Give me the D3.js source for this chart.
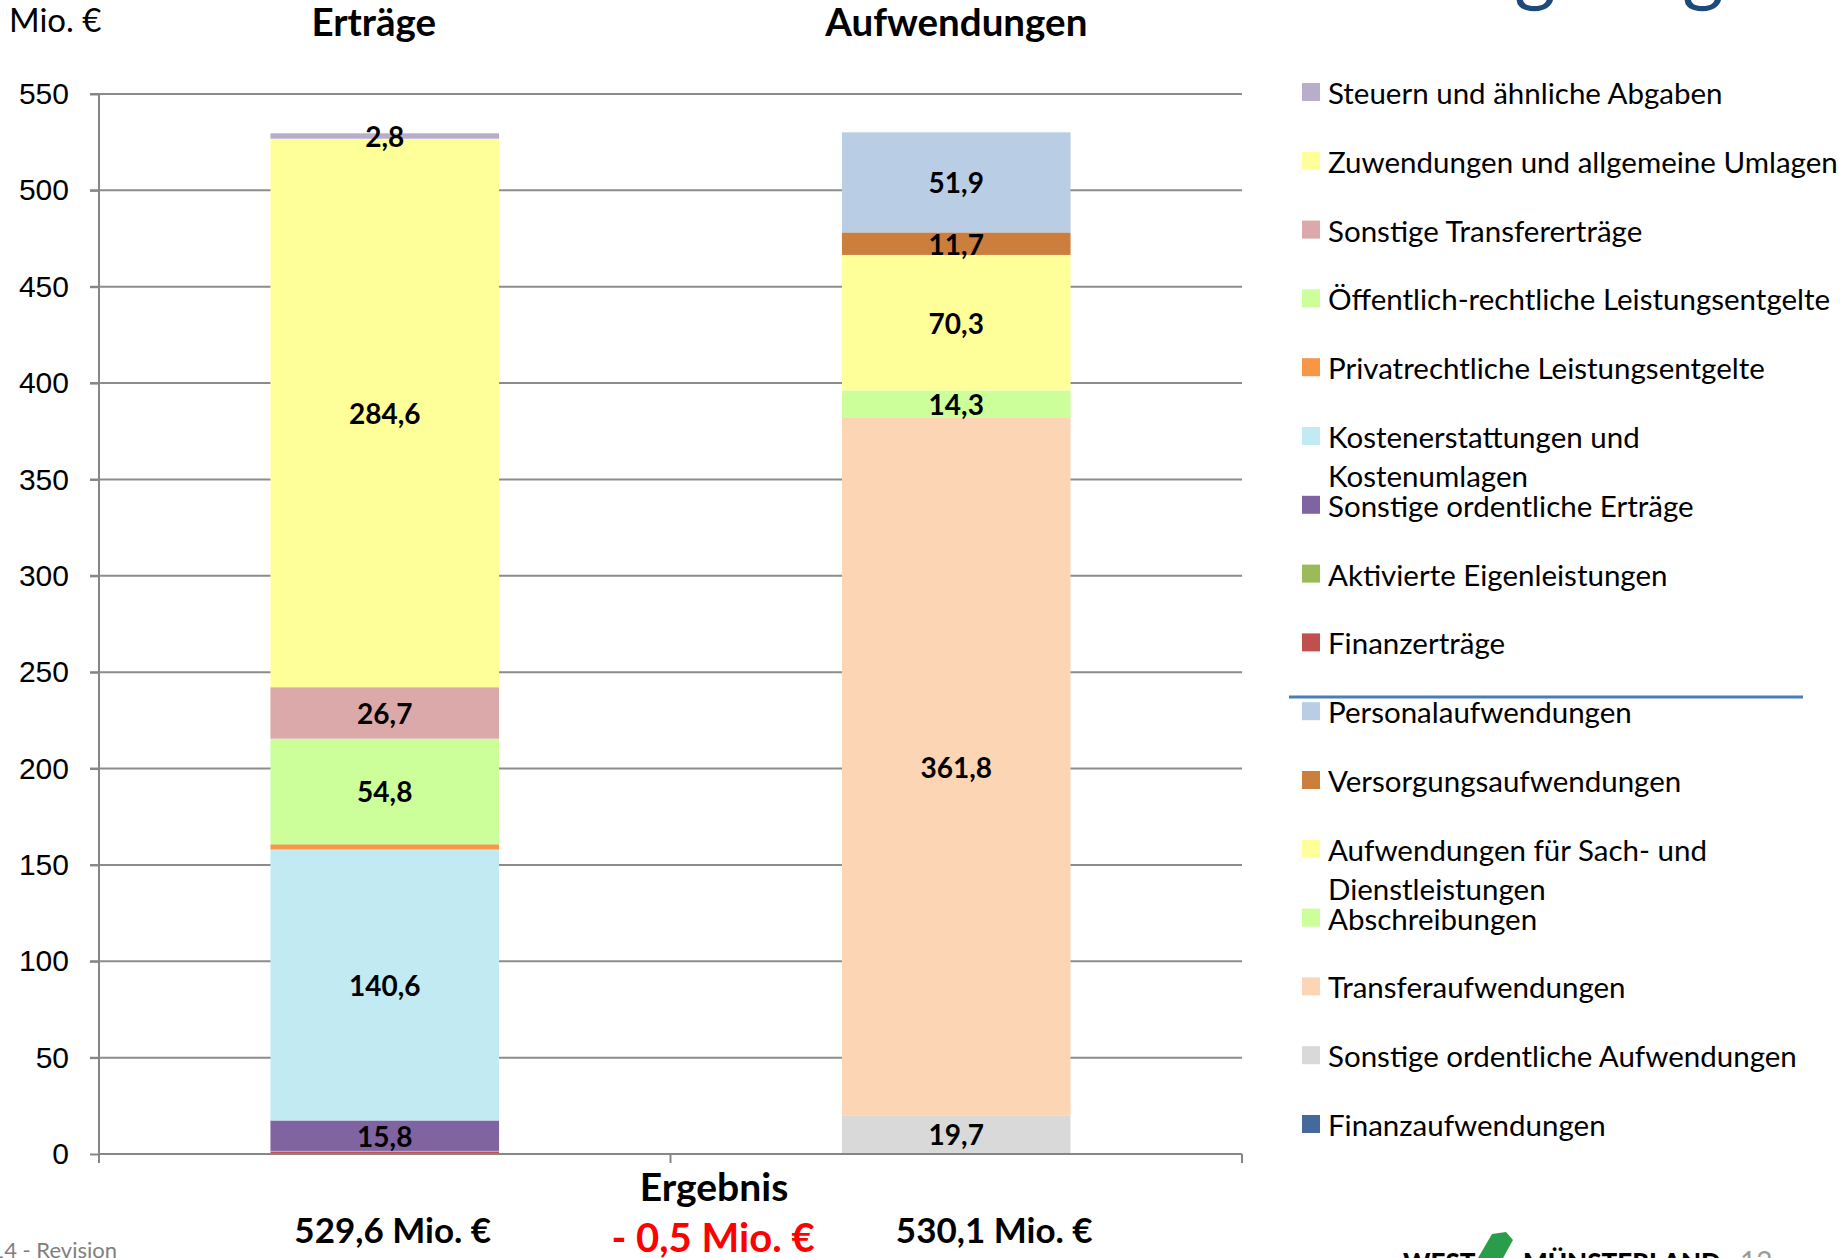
<!DOCTYPE html>
<html lang="de">
<head>
<meta charset="UTF-8" />
<title>Erträge und Aufwendungen</title>
<script src="https://d3js.org/d3.v7.min.js"></script>
<style>
  body { margin: 0; background: #fff; overflow: hidden; }
  svg { display: block; font-family: Lato, "Open Sans", sans-serif; }
  .grid line { stroke: #8c8c8c; stroke-width: 2px; }
  .axis path, .axis line { stroke: #868686; stroke-width: 2px; }
  .axis text { font-size: 30px; fill: #000; }
  .seg-label { font-size: 28px; font-weight: bold; fill: #000; }
  .legend text { font-size: 29.5px; fill: #000; }
</style>
</head>
<body>
<svg width="1847" height="1258"></svg>
<script>
// categories and y ticks
const categories = ["Erträge", "Aufwendungen"];
const yTicks = [0, 50, 100, 150, 200, 250, 300, 350, 400, 450, 500, 550];

// series in stacking order (bottom -> top); legend shows them reversed
const seriesNames = [
  "Finanzaufwendungen",
  "Sonstige ordentliche Aufwendungen",
  "Transferaufwendungen",
  "Abschreibungen",
  "Aufwendungen für Sach- und\nDienstleistungen",
  "Versorgungsaufwendungen",
  "Personalaufwendungen",
  "Finanzerträge",
  "Aktivierte Eigenleistungen",
  "Sonstige ordentliche Erträge",
  "Kostenerstattungen und\nKostenumlagen",
  "Privatrechtliche Leistungsentgelte",
  "Öffentlich-rechtliche Leistungsentgelte",
  "Sonstige Transfererträge",
  "Zuwendungen und allgemeine Umlagen",
  "Steuern und ähnliche Abgaben"
];
const seriesColors = [
  "#44699c", "#d9d9d9", "#fcd5b5", "#ccff99", "#ffff99", "#cc7f3c", "#b9cde5",
  "#c0504d", "#9bbb59", "#8064a2", "#c2eaf2", "#f79646", "#ccff99", "#dba9a9",
  "#ffff99", "#b8aecb"
];
const ertraegeValues =     [0, 0, 0, 0, 0, 0, 0, 1.1, 0.5, 15.8, 140.6, 2.7, 54.8, 26.7, 284.6, 2.8];
const aufwendungenValues = [0.4, 19.7, 361.8, 14.3, 70.3, 11.7, 51.9, 0, 0, 0, 0, 0, 0, 0, 0, 0];

// totals under the bars
const totalLabels = ["529,6 Mio. €", "530,1 Mio. €"];
const resultTitle = "Ergebnis";
const resultValue = "- 0,5 Mio. €";

const svg = d3.select("svg");

const x = d3.scaleBand().domain(categories).range([99, 1242])
  .paddingInner(0.6).paddingOuter(0.3);
const y = d3.scaleLinear().domain([0, 550]).range([1154, 94]);

// gridlines
svg.append("g").attr("class", "grid")
  .selectAll("line").data(yTicks.filter(d => d > 0)).join("line")
  .attr("x1", 90).attr("x2", 1242)
  .attr("y1", d => y(d)).attr("y2", d => y(d));

// stacked bars
const rows = categories.map((c, i) => {
  const r = { cat: c };
  const vals = i === 0 ? ertraegeValues : aufwendungenValues;
  seriesNames.forEach((s, j) => r[s] = vals[j]);
  return r;
});
const stacked = d3.stack().keys(seriesNames)(rows);
const fmt = v => d3.format(".1f")(v).replace(".", ",");

const layers = svg.append("g").selectAll("g").data(stacked).join("g")
  .attr("fill", (d, i) => seriesColors[i]);
layers.selectAll("rect").data(d => d.filter(p => p[1] - p[0] > 0)).join("rect")
  .attr("x", d => x(d.data.cat))
  .attr("width", x.bandwidth())
  .attr("y", d => y(d[1]))
  .attr("height", d => y(d[0]) - y(d[1]));

// segment labels
const labelData = [];
stacked.forEach(layer => layer.forEach(p => {
  const v = p[1] - p[0];
  if (v >= 2.75) labelData.push({ cat: p.data.cat, mid: (p[0] + p[1]) / 2, v });
}));
svg.append("g").selectAll("text").data(labelData).join("text")
  .attr("class", "seg-label")
  .attr("x", d => x(d.cat) + x.bandwidth() / 2)
  .attr("y", d => y(d.mid))
  .attr("text-anchor", "middle")
  .attr("dominant-baseline", "central")
  .text(d => fmt(d.v));

// y axis
const yAxis = svg.append("g").attr("class", "axis")
  .attr("transform", "translate(99,0)")
  .call(d3.axisLeft(y).tickValues(yTicks).tickSize(9).tickPadding(21).tickSizeOuter(0));
yAxis.select(".domain").attr("d", `M0,${y(550)}V${y(0)}`);

// x axis (no labels, ticks between categories)
const xAxis = svg.append("g").attr("class", "axis");
xAxis.append("line").attr("x1", 99).attr("x2", 1242).attr("y1", y(0)).attr("y2", y(0));
xAxis.selectAll(".xt").data([99, (99 + 1242) / 2, 1242]).join("line")
  .attr("x1", d => d).attr("x2", d => d)
  .attr("y1", y(0)).attr("y2", y(0) + 9);

// unit + category titles
svg.append("text").attr("x", 9).attr("y", 32)
  .style("font-size", "33px").text("Mio. €");
svg.selectAll(".cat-title").data(categories).join("text")
  .attr("x", (d, i) => x(d) + x.bandwidth() / 2 - (i === 0 ? 11 : 0))
  .attr("y", 36)
  .attr("text-anchor", "middle")
  .style("font-size", "38.5px").style("font-weight", "bold")
  .text(d => d);

// totals and result
svg.selectAll(".total").data(categories).join("text")
  .attr("x", (d, i) => x(d) + x.bandwidth() / 2 + (i === 0 ? 8 : 38))
  .attr("y", 1229)
  .attr("text-anchor", "middle").attr("dominant-baseline", "central")
  .style("font-size", "35px").style("font-weight", "bold")
  .text((d, i) => totalLabels[i]);
svg.append("text").attr("x", 714).attr("y", 1186)
  .attr("text-anchor", "middle").attr("dominant-baseline", "central")
  .style("font-size", "39px").style("font-weight", "bold").text(resultTitle);
svg.append("text").attr("x", 713).attr("y", 1237)
  .attr("text-anchor", "middle").attr("dominant-baseline", "central")
  .style("font-size", "40px").style("font-weight", "bold").style("fill", "#ff0000")
  .text(resultValue);

// legend
const legendOrder = seriesNames.map((s, i) => i).reverse();
const legend = svg.append("g").attr("class", "legend");
const item = legend.selectAll("g").data(legendOrder).join("g")
  .attr("transform", (d, k) => `translate(1302,${92 + k * 68.8})`);
item.append("rect").attr("x", 0).attr("y", -9).attr("width", 18).attr("height", 18)
  .attr("fill", d => seriesColors[d]);
item.append("text").attr("x", 26).attr("y", 0)
  .attr("dominant-baseline", "central")
  .selectAll("tspan").data(d => seriesNames[d].split("\n")).join("tspan")
  .attr("x", 26).attr("dy", (d, i) => i === 0 ? 0 : 39).text(d => d);
legend.append("line")
  .attr("x1", 1289).attr("x2", 1803).attr("y1", 697).attr("y2", 697)
  .attr("stroke", "#4a7ebb").attr("stroke-width", 3);

// slide remnants: title descenders, footer, logo, page number
svg.selectAll(".ttl").data([1535, 1703]).join("text")
  .attr("x", d => d).attr("y", -4).attr("text-anchor", "middle")
  .style("font-size", "80px").style("fill", "#1f497d").text("g");
svg.append("text").attr("x", 117).attr("y", 1258).attr("text-anchor", "end")
  .style("font-size", "22px").style("fill", "#7f7f7f").text("2014 - Revision");
svg.append("text").attr("x", 1403).attr("y", 1272)
  .style("font-size", "26px").style("font-weight", "900").text("WEST");
svg.append("path").attr("d", "M1478,1258 L1492,1234 L1506,1232 L1513,1240 L1503,1258 Z")
  .attr("fill", "#2a9d4a");
svg.append("text").attr("x", 1523).attr("y", 1272)
  .style("font-size", "26px").style("font-weight", "900").text("MÜNSTERLAND");
svg.append("text").attr("x", 1740).attr("y", 1272)
  .style("font-size", "28px").style("fill", "#9a9a9a").text("12");
</script>
</body>
</html>
